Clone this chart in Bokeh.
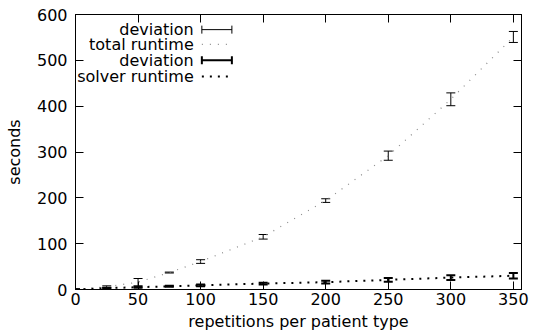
from bokeh.plotting import figure
from bokeh.models import (ColumnDataSource, Whisker, TeeHead, LinearAxis, Label,
                          Arrow, FixedTicker, Range1d, CustomJSTickFormatter)
from bokeh.embed import file_html
from bokeh.resources import INLINE

# ---- data ----
reps = [0, 25, 50, 75, 100, 150, 200, 250, 300, 350]
total_runtime = [0, 6, 16, 37, 61, 115, 194, 292, 415, 551]
total_dev = [1, 2, 8, 1, 4, 5, 4, 10, 14, 12]
solver_runtime = [0, 3, 5, 7, 9, 13, 16, 21, 26, 30]
solver_dev = [0.5, 1, 1, 1, 2, 2, 3, 4, 5, 6]
x_ticks = [0, 50, 100, 150, 200, 250, 300, 350]
y_ticks = [0, 100, 200, 300, 400, 500, 600]

FONT = "DejaVu Sans"
FS = "16px"

src = ColumnDataSource(dict(
    x=reps,
    t=total_runtime,
    t_lo=[v - d for v, d in zip(total_runtime, total_dev)],
    t_hi=[v + d for v, d in zip(total_runtime, total_dev)],
    s=solver_runtime,
    s_lo=[v - d for v, d in zip(solver_runtime, solver_dev)],
    s_hi=[v + d for v, d in zip(solver_runtime, solver_dev)],
))

p = figure(frame_width=446, frame_height=275, output_backend="svg",
           toolbar_location=None,
           x_range=Range1d(0, 356.5), y_range=Range1d(0, 600),
           min_border_left=75, min_border_right=12, min_border_top=14,
           min_border_bottom=44)
p.grid.visible = False
p.outline_line_color = "black"
p.outline_line_width = 1

def style_axis(ax, labels=True):
    ax.major_tick_in = 8
    ax.major_tick_out = 0
    ax.minor_tick_in = 0
    ax.minor_tick_out = 0
    ax.axis_line_color = "black"
    ax.major_tick_line_color = "black"
    ax.major_label_text_font = FONT
    ax.major_label_text_font_size = FS
    ax.major_label_text_color = "black"
    ax.axis_label_text_font = FONT
    ax.axis_label_text_font_size = FS
    ax.axis_label_text_font_style = "normal"
    ax.axis_label_text_color = "black"
    if not labels:
        ax.formatter = CustomJSTickFormatter(code="return ''")
        ax.major_label_standoff = 0

p.xaxis.ticker = FixedTicker(ticks=x_ticks)
p.yaxis.ticker = FixedTicker(ticks=y_ticks)
p.xaxis.axis_label = "repetitions per patient type"
p.yaxis.axis_label = "seconds"
style_axis(p.xaxis[0])
style_axis(p.yaxis[0])
p.xaxis.major_label_standoff = 3
p.xaxis.axis_label_standoff = 4
p.yaxis.major_label_standoff = 8
p.yaxis.axis_label_standoff = 10

top = LinearAxis(ticker=FixedTicker(ticks=x_ticks))
style_axis(top, labels=False)
p.add_layout(top, "above")
right = LinearAxis(ticker=FixedTicker(ticks=y_ticks))
style_axis(right, labels=False)
p.add_layout(right, "right")

# lines
p.line("x", "t", source=src, line_color="#8a8a8a", line_width=1.2, line_dash="1 7")
p.line("x", "s", source=src, line_color="black", line_width=2, line_dash="2 6")

# error bars
p.add_layout(Whisker(base="x", lower="t_lo", upper="t_hi", source=src,
                     line_color="black", line_width=1,
                     lower_head=TeeHead(size=9, line_color="black", line_width=1),
                     upper_head=TeeHead(size=9, line_color="black", line_width=1)))
p.add_layout(Whisker(base="x", lower="s_lo", upper="s_hi", source=src,
                     line_color="black", line_width=2,
                     lower_head=TeeHead(size=9, line_color="black", line_width=2),
                     upper_head=TeeHead(size=9, line_color="black", line_width=2)))

# key (gnuplot style: text right-aligned, sample on the right)
KX = 94.5        # right edge of key texts (data units)
S0, S1 = 101, 125
key_rows = [("deviation", 567, "err", 1),
            ("total runtime", 535, "dot_gray", 1),
            ("deviation", 500, "err", 2),
            ("solver runtime", 465, "dot_black", 2)]
for txt, yy, kind, lw in key_rows:
    p.add_layout(Label(x=KX, y=yy, text=txt, text_align="right",
                       text_baseline="middle", text_font=FONT,
                       text_font_size=FS, text_color="black"))
    if kind == "err":
        p.add_layout(Arrow(x_start=S0, y_start=yy, x_end=S1, y_end=yy,
                           line_color="black", line_width=lw,
                           start=TeeHead(size=8, line_color="black", line_width=lw),
                           end=TeeHead(size=8, line_color="black", line_width=lw)))
    elif kind == "dot_gray":
        p.add_layout(Arrow(x_start=S0, y_start=yy, x_end=S1, y_end=yy,
                           line_color="#8a8a8a", line_width=1.2, line_dash="1 7",
                           end=None))
    else:
        p.add_layout(Arrow(x_start=S0, y_start=yy, x_end=S1, y_end=yy,
                           line_color="black", line_width=2, line_dash="2 6",
                           end=None))

open("out.html", "w").write(file_html(p, INLINE))
